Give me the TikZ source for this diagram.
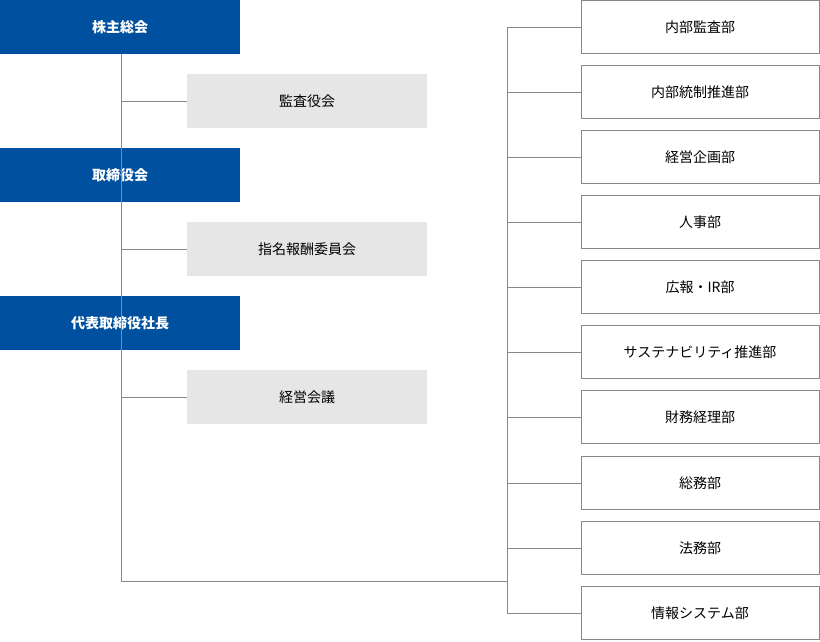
\documentclass[tikz,border=0pt]{standalone}
\usepackage{fontspec}
\setmainfont{Noto Sans CJK JP}
\usepackage{tikz}
\definecolor{corpblue}{HTML}{0050A0}
\definecolor{boardgray}{HTML}{E6E6E6}
\definecolor{linegray}{HTML}{888888}
\tikzstyle{topbox} = [rectangle, minimum width=240pt, minimum height=54pt, text centered, fill=corpblue, text=white, font=\fontsize{14}{16}\selectfont\bfseries]
\tikzstyle{subbox} = [rectangle, minimum width=240pt, minimum height=54pt, text centered, fill=boardgray, text=black, font=\fontsize{14}{16}\selectfont]
\tikzstyle{deptbox} = [rectangle, minimum width=238pt, minimum height=53pt, text centered, draw=linegray, fill=white, font=\fontsize{14}{16}\selectfont]
\tikzstyle{branch} = [linegray, line width=0.8pt]

\begin{document}
\begin{tikzpicture}[x=1pt, y=-1pt]
\useasboundingbox (0,0) rectangle (820,641);

\node (agm) [topbox] at (120,27) {株主総会};
\node (board) [topbox] at (120,175) {取締役会};
\node (ceo) [topbox] at (120,323) {代表取締役社長};
\node (audit) [subbox] at (307,101) {監査役会};
\node (nomination) [subbox] at (307,249) {指名報酬委員会};
\node (mgmt) [subbox] at (307,397) {経営会議};

\coordinate (trunkend) at (121,581);
\coordinate (deptjoin) at (507,581);
\draw [branch] (agm.south -| trunkend) -- (trunkend) -- (deptjoin);
\foreach \n in {audit, nomination, mgmt}
  \draw [branch] (\n.west -| trunkend) -- (\n.west);

\foreach \name/\y/\txt in {d1/27/内部監査部, d2/92/内部統制推進部, d3/157/経営企画部, d4/222/人事部, d5/287/広報・IR部, d6/352/サステナビリティ推進部, d7/417/財務経理部, d8/483/総務部, d9/548/法務部, d10/613/情報システム部}
{
  \node (\name) [deptbox] at (700,\y) {\txt};
  \draw [branch] (\name.west -| deptjoin) -- (\name.west);
}
\draw [branch] (d1.west -| deptjoin) -- (d10.west -| deptjoin);

\end{tikzpicture}
\end{document}
